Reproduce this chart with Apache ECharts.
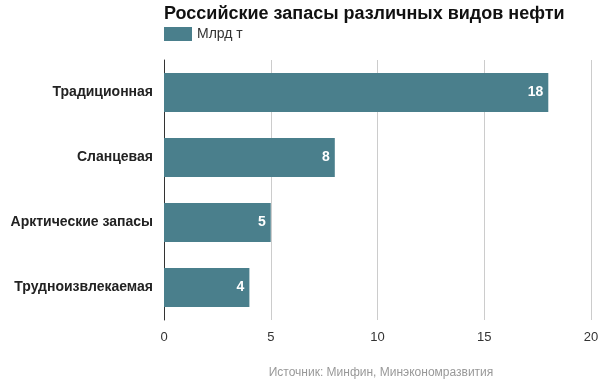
<!DOCTYPE html>
<html><head><meta charset="utf-8">
<script src="https://cdn.jsdelivr.net/npm/echarts@6/dist/echarts.min.js"></script>
<style>html,body{margin:0;padding:0;background:#fff}#c{width:604px;height:382px}</style>
</head><body><div id="c"></div>
<script>
const categories = ['Традиционная','Сланцевая','Арктические запасы','Трудноизвлекаемая'];
const values = [18, 8, 5, 4];
const xTicks = [0, 5, 10, 15, 20];
const seriesName = 'Млрд т';
const titleText = 'Российские запасы различных видов нефти';
const sourceText = 'Источник: Минфин, Минэкономразвития';

const chart = echarts.init(document.getElementById('c'));
chart.setOption({
  animation: false,
  textStyle: {fontFamily: 'Arial, "Liberation Sans", sans-serif'},
  title: [{
    text: titleText, left: 159, top: 0,
    textStyle: {fontSize: 18, fontWeight: 'bold', color: '#111', fontFamily: 'Arial, "Liberation Sans", sans-serif'}
  }, {
    text: sourceText, left: 376, textAlign: 'center', top: 362,
    textStyle: {fontSize: 12, fontWeight: 'normal', color: '#999', fontFamily: 'Arial, "Liberation Sans", sans-serif'}
  }],
  legend: {
    data: [seriesName], left: 159, top: 22, itemWidth: 28, itemHeight: 14, itemGap: 5,
    icon: 'rect',
    textStyle: {fontSize: 14, color: '#333'}
  },
  grid: {left: 164, right: 13, top: 60, bottom: 62, containLabel: false},
  xAxis: {
    type: 'value', min: xTicks[0], max: xTicks[xTicks.length-1], interval: 5,
    axisLine: {show: false},
    axisTick: {show: false},
    splitLine: {lineStyle: {color: '#ccc', width: 1}},
    axisLabel: {fontSize: 13, color: '#333', margin: 11}
  },
  yAxis: {
    type: 'category', data: categories, inverse: true,
    axisLine: {lineStyle: {color: '#333', width: 1}},
    axisTick: {show: false},
    axisLabel: {fontSize: 14, fontWeight: 'bold', color: '#222', margin: 11}
  },
  series: [{
    name: seriesName, type: 'bar', data: values, barWidth: '60%',
    itemStyle: {color: '#4a7f8c'},
    label: {show: true, position: 'insideRight', color: '#fff', fontWeight: 'bold', fontSize: 14, offset: [0, 0]}
  }]
});
</script></body></html>
